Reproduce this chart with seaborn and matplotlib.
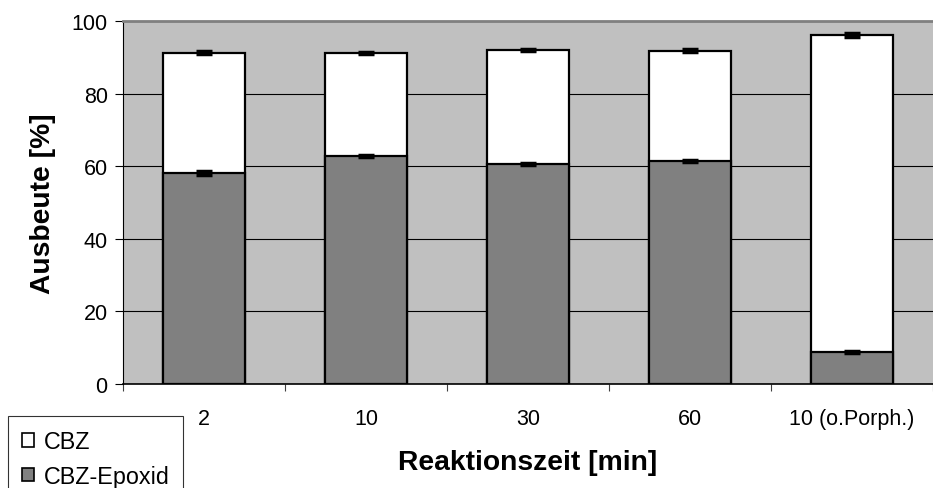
import numpy as np
import pandas as pd
import matplotlib
matplotlib.use("Agg")
import matplotlib.pyplot as plt
from matplotlib.patches import Patch
import seaborn as sns

# data
categories = ["2", "10", "30", "60", "10 (o.Porph.)"]
epoxid = [58.1, 62.8, 60.6, 61.5, 8.9]
total = [91.2, 91.2, 92.1, 91.8, 96.1]
err_epoxid = [0.5, 0.3, 0.3, 0.3, 0.3]
err_total = [0.4, 0.3, 0.3, 0.4, 0.5]

df = pd.DataFrame({"zeit": categories, "epoxid": epoxid, "total": total})

sns.set_style("white")
plt.rcParams["font.family"] = ["Liberation Sans", "DejaVu Sans"]
plt.rcParams["text.color"] = "black"
plt.rcParams["axes.labelcolor"] = "black"
plt.rcParams["xtick.labelcolor"] = "black"
plt.rcParams["ytick.labelcolor"] = "black"

fig = plt.figure(figsize=(9.33, 4.89), dpi=100)
ax = fig.add_axes([123 / 933, 104 / 489, 810 / 933, 363 / 489])
ax.set_facecolor("#C0C0C0")

# white CBZ part drawn as full bar, epoxid bar on top of it
sns.barplot(data=df, x="zeit", y="total", color="white", width=0.51,
            edgecolor="black", linewidth=1.6, saturation=1, ax=ax, zorder=3)
sns.barplot(data=df, x="zeit", y="epoxid", color="#808080", width=0.51,
            edgecolor="black", linewidth=1.6, saturation=1, ax=ax, zorder=4)

pos = np.arange(len(categories))
ax.errorbar(pos, total, yerr=err_total, fmt="none", ecolor="black",
            elinewidth=1.5, capsize=6, capthick=2.5, zorder=5)
ax.errorbar(pos, epoxid, yerr=err_epoxid, fmt="none", ecolor="black",
            elinewidth=1.5, capsize=6, capthick=2.5, zorder=5)

ax.set_ylim(0, 100)
ax.set_xlim(-0.5, len(categories) - 0.5)
ax.set_yticks([0, 20, 40, 60, 80, 100])
ax.yaxis.grid(True, color="black", linewidth=0.8)
ax.set_axisbelow(True)

# ticks between categories, labels at the centres
ax.set_xticks(np.arange(len(categories) + 1) - 0.5)
ax.set_xticklabels([])
ax.set_xticks(pos, minor=True)
ax.set_xticklabels(categories, minor=True)
ax.tick_params(axis="x", which="major", direction="out", length=5,
               width=0.8, color="#404040", bottom=True)
ax.tick_params(axis="x", which="minor", length=0, pad=17.5, labelsize=15.5,
               labelcolor="black")
ax.tick_params(axis="y", direction="out", length=6, width=0.8,
               color="black", left=True, labelsize=15.5, pad=5, labelcolor="black")

ax.spines["right"].set_visible(False)
ax.spines["top"].set_color("#808080")
ax.spines["top"].set_linewidth(2)
ax.spines["left"].set_color("black")
ax.spines["left"].set_linewidth(0.8)
ax.spines["bottom"].set_color("black")
ax.spines["bottom"].set_linewidth(1.2)

ax.set_xlabel("Reaktionszeit [min]", fontsize=20.3, fontweight="bold",
              labelpad=14.5, color="black")
ax.set_ylabel("Ausbeute [%]", fontsize=20.3, fontweight="bold",
              labelpad=11, color="black")

handles = [Patch(facecolor="white", edgecolor="black", linewidth=1.2, label="CBZ"),
           Patch(facecolor="#808080", edgecolor="black", linewidth=1.2, label="CBZ-Epoxid")]
leg = fig.legend(handles=handles, loc="upper left",
                 bbox_to_anchor=(8 / 933, 1 - 417 / 489), fontsize=16.8,
                 frameon=True, fancybox=False, handlelength=0.52, handleheight=0.52,
                 handletextpad=0.4, borderaxespad=0, labelspacing=0.5,
                 borderpad=0.6)
leg.get_frame().set_edgecolor("black")
leg.get_frame().set_linewidth(0.8)
for t in leg.get_texts():
    t.set_color("black")

fig.savefig("out.png", dpi=100)
